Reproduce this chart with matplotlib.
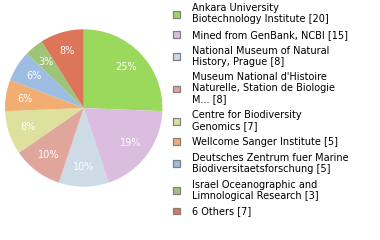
import matplotlib
matplotlib.use('Agg')
import matplotlib.pyplot as plt

labels = [
    'Ankara University\nBiotechnology Institute [20]',
    'Mined from GenBank, NCBI [15]',
    'National Museum of Natural\nHistory, Prague [8]',
    "Museum National d'Histoire\nNaturelle, Station de Biologie\nM... [8]",
    'Centre for Biodiversity\nGenomics [7]',
    'Wellcome Sanger Institute [5]',
    'Deutsches Zentrum fuer Marine\nBiodiversitaetsforschung [5]',
    'Israel Oceanographic and\nLimnological Research [3]',
    '6 Others [7]',
]
counts = [20, 15, 8, 8, 7, 5, 5, 3, 7]
colors = ['#9ad95b', '#dbbddf', '#ccdbe6', '#e0a59b', '#dde19d',
          '#f1ad72', '#9dbde2', '#9dc477', '#dc755a']


def pct_label(p):
    # the source truncates percentages instead of rounding
    return '%d%%' % int(p + 1e-9)


fig = plt.figure(figsize=(3.8, 2.4), dpi=100)
ax = fig.add_axes([5 / 380, 53.3 / 240, 157.4 / 380, 157.4 / 240])
wedges, texts, autotexts = ax.pie(
    counts, colors=colors, startangle=90, counterclock=False,
    autopct=pct_label, pctdistance=0.75,
    wedgeprops=dict(linewidth=0),
    textprops=dict(color='white', fontsize=7),
)
ax.set_xlim(-1, 1)
ax.set_ylim(-1, 1)
ax.set_aspect('equal')

leg = fig.legend(
    wedges, labels, loc='upper left',
    bbox_to_anchor=(173 / 380, 1 - 3 / 240),
    frameon=False, fontsize=7, borderpad=0, borderaxespad=0,
    handlelength=0.72, handleheight=0.72, handletextpad=1.25,
    labelspacing=0.6,
)
for t in leg.get_texts():
    t.set_linespacing(1.12)
for h in leg.legend_handles:
    h.set_edgecolor('#808080')
    h.set_linewidth(0.9)

fig.savefig('out.png', dpi=100)
